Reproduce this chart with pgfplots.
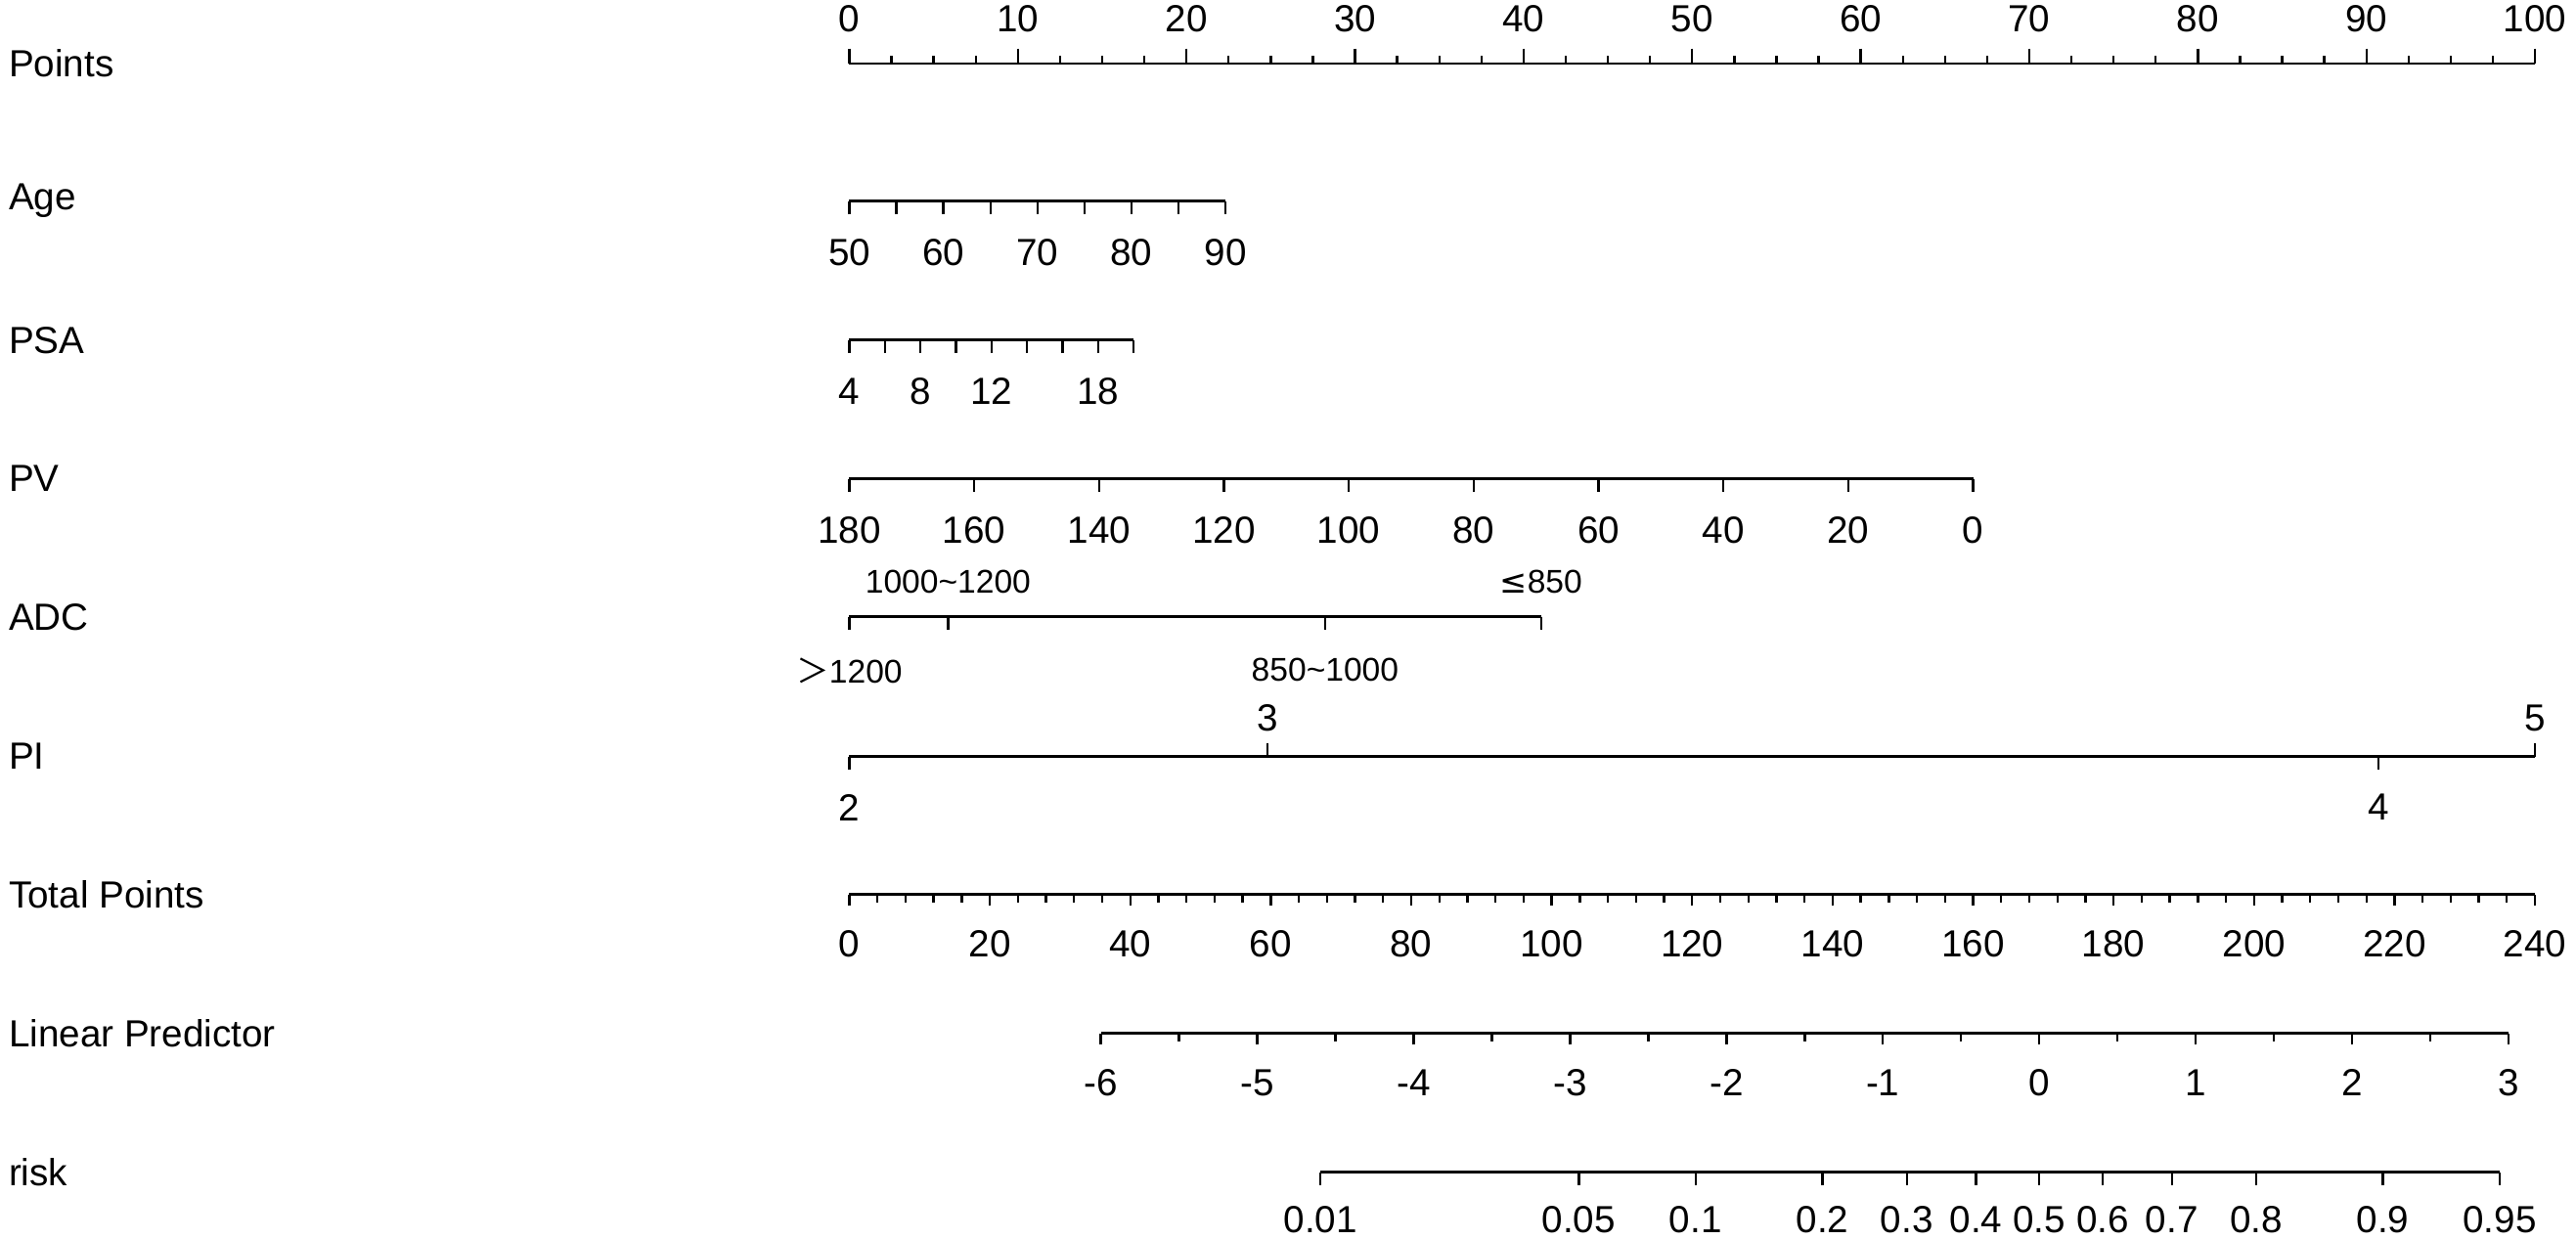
\documentclass[border=0pt]{standalone}
\usepackage{fontspec}
\setmainfont{Liberation Sans}
\newfontfamily\cjk{Noto Sans CJK SC}
\newfontfamily\dejavu{DejaVu Sans}
\usepackage{pgfplots}
\pgfplotsset{compat=1.18}
\pgfplotsset{
  nomo/.style={
    scale only axis, height=10pt,
    ymin=0, ymax=1, ytick=\empty,
    axis y line=none,
    axis line style={line width=0.8pt, -},
    every tick/.style={line width=0.7pt, black},
    major tick length=4pt,
    minor tick length=2.4pt,
    tick label style={font=\fontsize{11.5}{13}\selectfont},
    /pgf/number format/assume math mode=true,
    clip=false,
  },
  down/.style={axis x line=bottom, anchor=south west, tick align=outside,
    axis line style={line width=0.8pt, -}, xticklabel style={yshift=-4pt}},
  up/.style={axis x line=top, anchor=north west, tick align=outside,
    axis line style={line width=0.8pt, -}, xticklabel style={yshift=1.5pt}},
}
\newcommand\lab{\fontsize{11.5}{13}\selectfont}
\begin{document}
\begin{tikzpicture}
\useasboundingbox (0,0) rectangle (784pt,-377.4pt);
% Points
\begin{axis}[nomo, up, at={(258.5pt,-19.3pt)}, width=513pt, xmin=0, xmax=100,
  xtick={0,10,...,100}, minor xtick={0,2.5,...,100},
  major tick length=4.5pt, minor tick length=2.3pt]
\end{axis}
% Age
\begin{axis}[nomo, down, at={(258.5pt,-61.2pt)}, width=114.5pt, xmin=50, xmax=90,
  xtick={50,60,70,80,90}, minor xtick={55,65,75,85}, minor tick length=4pt]
\end{axis}
% PSA
\begin{axis}[nomo, down, at={(258.5pt,-103.5pt)}, width=86.5pt, xmin=4, xmax=20,
  xtick={4,8,12,18}, minor xtick={6,10,14,16,20}, minor tick length=4pt]
\end{axis}
% PV
\begin{axis}[nomo, down, at={(258.5pt,-145.75pt)}, width=342pt, xmin=0, xmax=180, x dir=reverse,
  xtick={0,20,...,180}]
\end{axis}
% ADC (points scale)
\begin{axis}[nomo, down, at={(258.5pt,-187.75pt)}, width=210.5pt, xmin=0, xmax=41.0,
  xtick={0,5.85,28.2,41.0},
  xticklabels={{{\cjk ＞}1200},{},{850\textasciitilde1000},{}},
  tick label style={font=\fontsize{10}{11}\selectfont}, xticklabel style={yshift=-1pt}]
\end{axis}
\begin{axis}[nomo, up, at={(258.5pt,-187.75pt)}, width=210.5pt, xmin=0, xmax=41.0,
  xtick={5.85,41.0}, major tick length=0pt,
  xticklabels={{1000\textasciitilde1200},{{\dejavu ≤}850}},
  tick label style={font=\fontsize{10}{11}\selectfont}, xticklabel style={yshift=2pt}]
\end{axis}
% PI (points scale)
\begin{axis}[nomo, down, at={(258.5pt,-230.25pt)}, width=513pt, xmin=0, xmax=100,
  xtick={0,90.7}, xticklabels={2,4}]
\end{axis}
\begin{axis}[nomo, up, at={(258.5pt,-230.25pt)}, width=513pt, xmin=0, xmax=100,
  xtick={24.8,100}, xticklabels={3,5}, xticklabel style={yshift=-1.5pt}]
\end{axis}
% Total Points
\begin{axis}[nomo, down, at={(258.5pt,-272.25pt)}, width=513pt, xmin=0, xmax=240,
  xtick={0,20,...,240}, minor xtick={0,4,...,240},
  major tick length=3.5pt, minor tick length=2.5pt]
\end{axis}
% Linear Predictor
\begin{axis}[nomo, down, at={(335pt,-314.5pt)}, width=428.5pt, xmin=-6, xmax=3,
  xtick={-6,-5,...,3}, minor xtick={-6,-5.5,...,3},
  major tick length=3.5pt, minor tick length=2.4pt]
\end{axis}
% risk (positions on the linear predictor scale)
\begin{axis}[nomo, down, at={(401.9pt,-356.75pt)}, width=358.9pt, xmin=-4.595, xmax=2.944,
  xtick={-4.595,-2.944,-2.197,-1.386,-0.847,-0.405,0,0.405,0.847,1.386,2.197,2.944},
  xticklabels={0.01,0.05,0.1,0.2,0.3,0.4,0.5,0.6,0.7,0.8,0.9,0.95},
  xticklabel style={yshift=1pt}]
\end{axis}
% row names
\foreach \y/\t in {19.3/Points, 61.2/Age, 103.5/PSA, 145.75/PV, 187.75/ADC, 230.25/PI, 272.25/Total Points, 314.5/Linear Predictor, 356.75/risk}
  \node[anchor=west, font=\lab, inner sep=0pt] at (2.5pt,-\y pt) {\t};
\end{tikzpicture}
\end{document}
